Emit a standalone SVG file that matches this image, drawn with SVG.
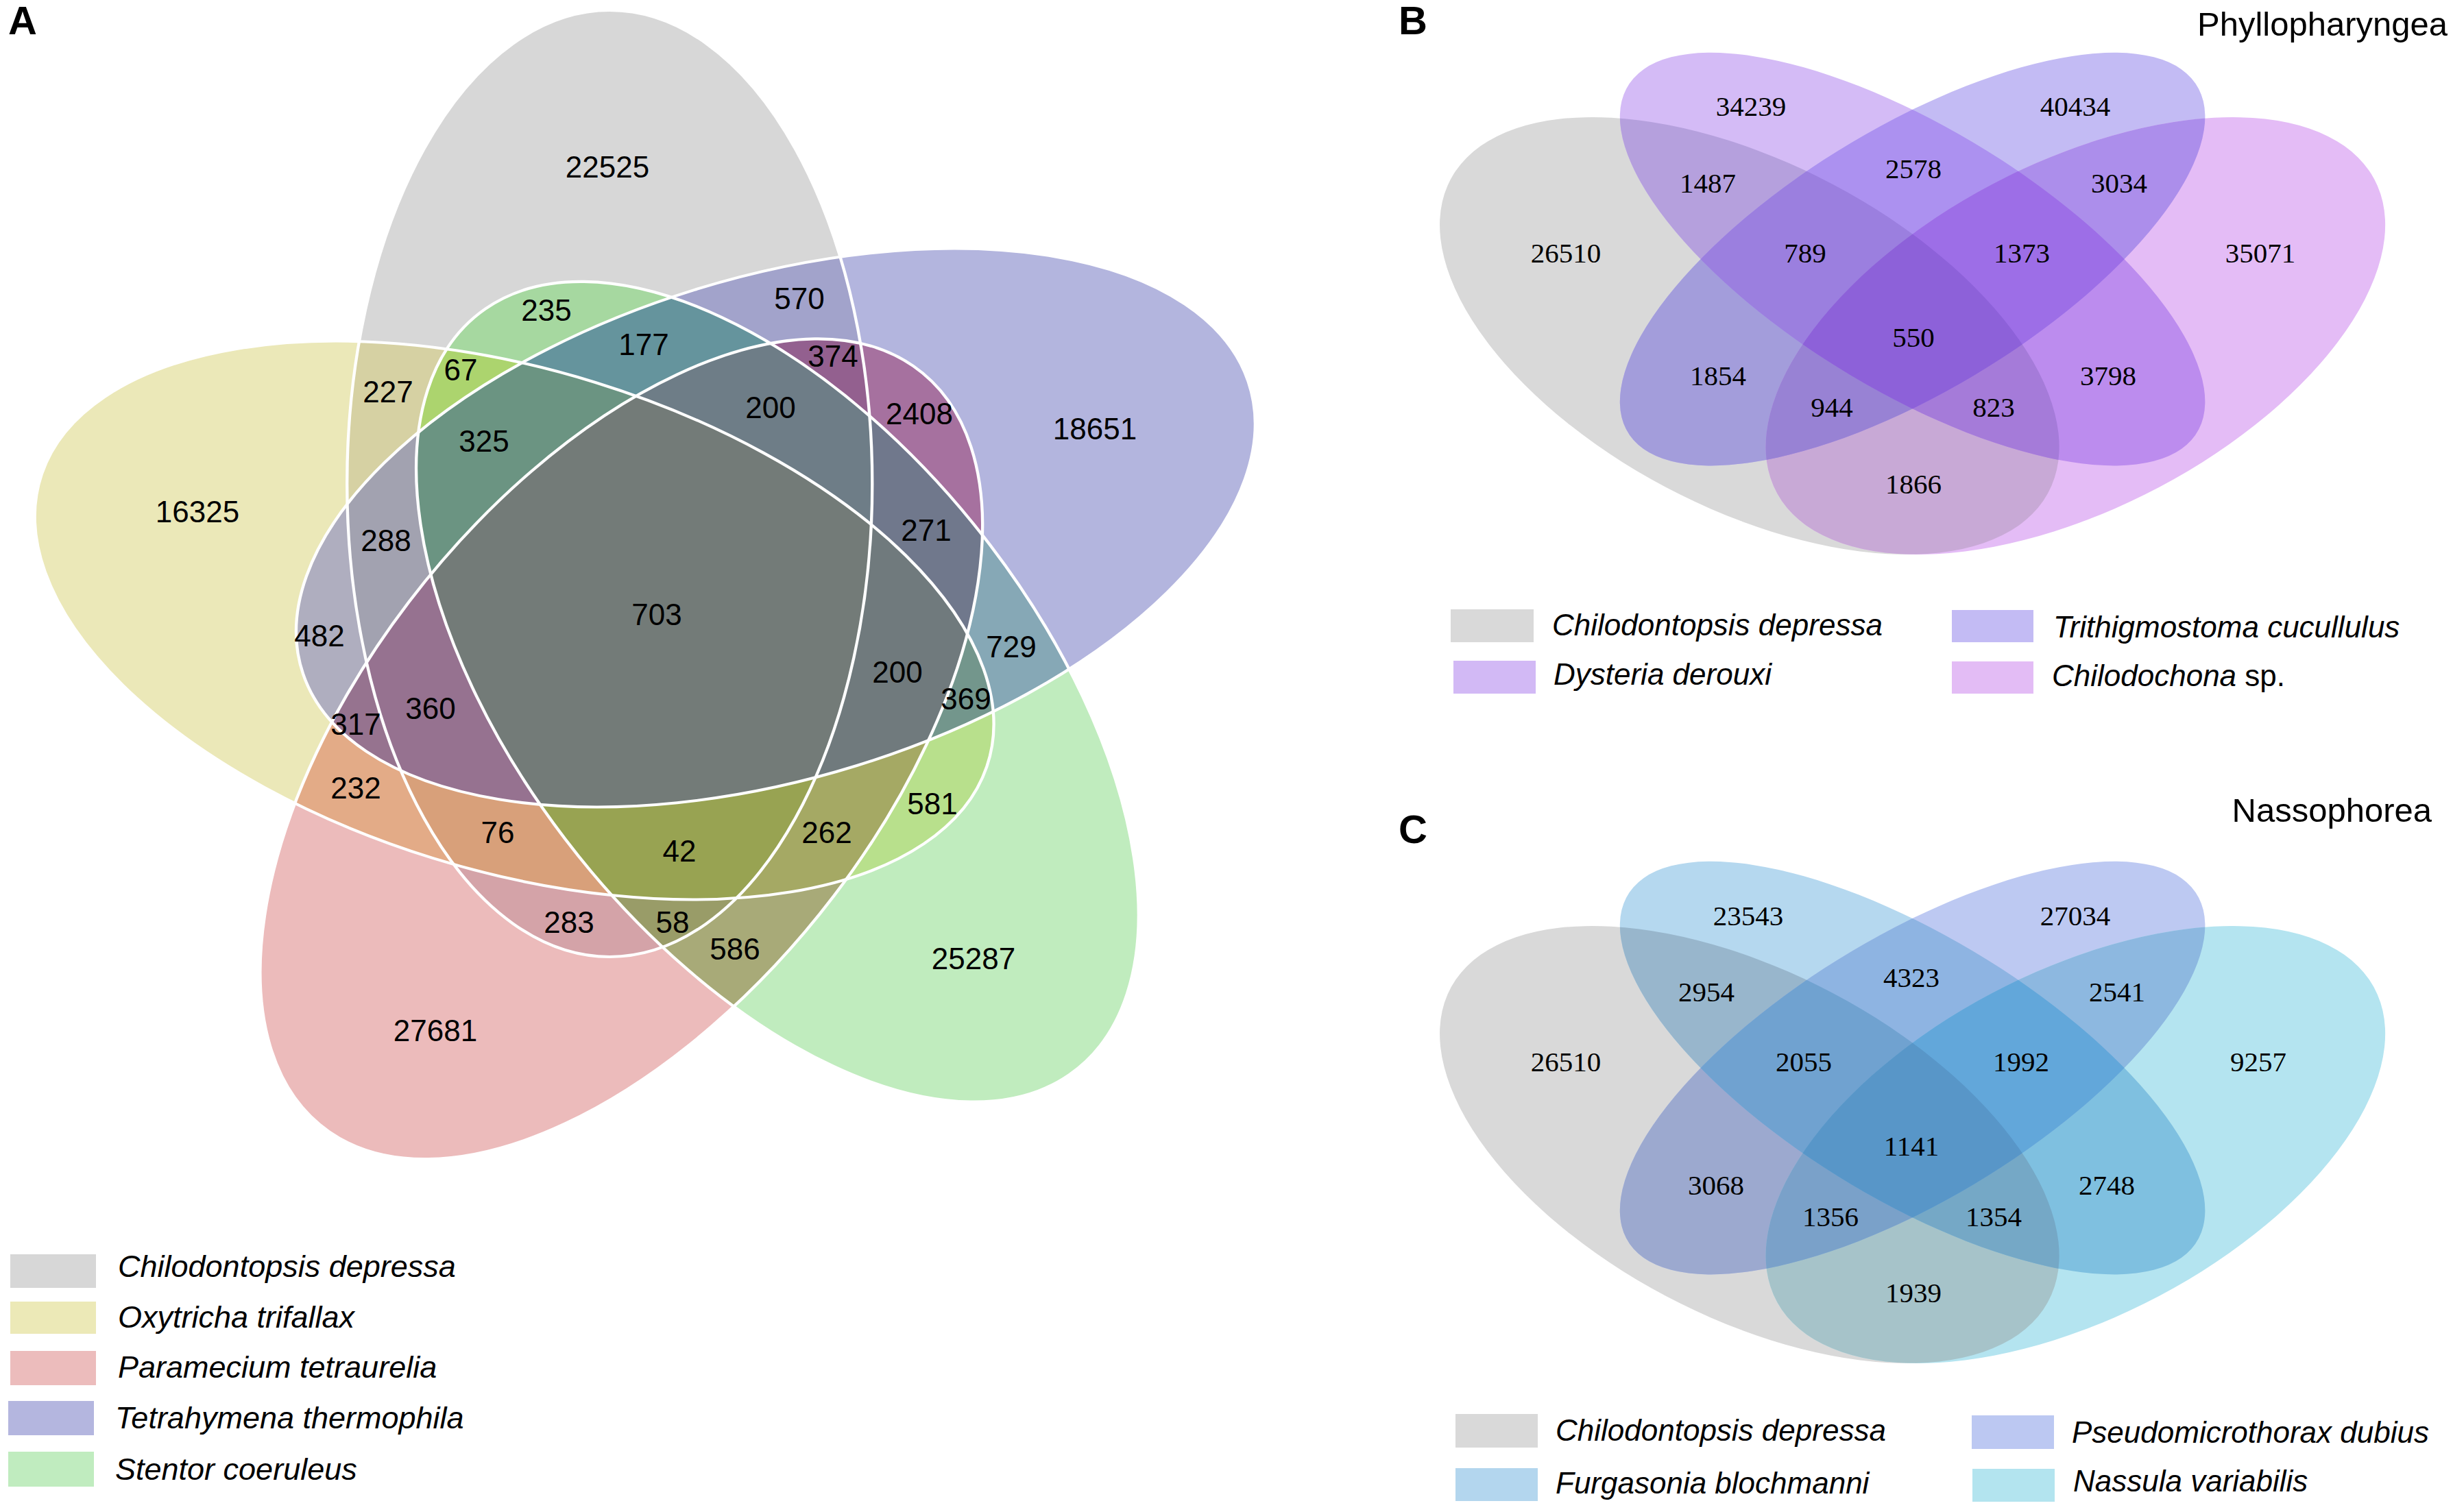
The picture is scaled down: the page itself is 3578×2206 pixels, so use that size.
<svg xmlns="http://www.w3.org/2000/svg" width="3578" height="2206" viewBox="0 0 3578 2206">
<style>
.numA{font-family:"Liberation Sans",Arial,sans-serif;font-size:44px;text-anchor:middle;fill:#000}
.numB{font-family:"Liberation Serif","Times New Roman",serif;font-size:41px;text-anchor:middle;fill:#000}
.legA{font-family:"Liberation Sans",Arial,sans-serif;font-size:45px;font-style:italic;fill:#000}
.legB{font-family:"Liberation Sans",Arial,sans-serif;font-size:44px;font-style:italic;fill:#000}
.plab{font-family:"Liberation Sans",Arial,sans-serif;font-size:58px;font-weight:bold;fill:#000}
.ttl{font-family:"Liberation Sans",Arial,sans-serif;font-size:49px;text-anchor:end;fill:#000}
</style>
<defs>
<ellipse id="eA0" cx="-0.04671" cy="-0.1256" rx="0.24" ry="0.4541"/>
<ellipse id="eA1" cx="0.10502" cy="-0.08323" rx="0.24" ry="0.4541" transform="rotate(72 0.10502 -0.08323)"/>
<ellipse id="eA2" cx="0.10661" cy="0.07416" rx="0.24" ry="0.4541" transform="rotate(144 0.10661 0.07416)"/>
<ellipse id="eA3" cx="-0.03603" cy="0.12907" rx="0.24" ry="0.4541" transform="rotate(216 -0.03603 0.12907)"/>
<ellipse id="eA4" cx="-0.13388" cy="0.00561" rx="0.24" ry="0.4541" transform="rotate(288 -0.13388 0.00561)"/>
<clipPath id="kA0"><use href="#eA0"/></clipPath>
<clipPath id="kA1"><use href="#eA1"/></clipPath>
<clipPath id="kA2"><use href="#eA2"/></clipPath>
<clipPath id="kA3"><use href="#eA3"/></clipPath>
<clipPath id="kA4"><use href="#eA4"/></clipPath>
<ellipse id="eB0" cx="-0.15" cy="0" rx="0.35" ry="0.2" transform="rotate(135 -0.15 0)"/>
<ellipse id="eB1" cx="0" cy="0.1" rx="0.35" ry="0.15" transform="rotate(135 0 0.1)"/>
<ellipse id="eB2" cx="0" cy="0.1" rx="0.35" ry="0.15" transform="rotate(45 0 0.1)"/>
<ellipse id="eB3" cx="0.15" cy="0" rx="0.35" ry="0.2" transform="rotate(45 0.15 0)"/>
<clipPath id="kB0"><use href="#eB0"/></clipPath>
<clipPath id="kB1"><use href="#eB1"/></clipPath>
<clipPath id="kB2"><use href="#eB2"/></clipPath>
<clipPath id="kB3"><use href="#eB3"/></clipPath>
</defs>
<rect x="0" y="0" width="3578" height="2206" fill="#fff"/>

<g id="panelA">
<text class="plab" x="12" y="50">A</text>
<g id="vennA" transform="translate(963.8 896.5) scale(1596 1520.6)">
<g id="setsA">
<use href="#eA0" fill="#d7d7d7"/>
<use href="#eA1" fill="#b3b5de"/>
<use href="#eA2" fill="#c0ecbe"/>
<use href="#eA3" fill="#ecbbbb"/>
<use href="#eA4" fill="#ebe8b8"/>
</g>
<g id="pairsA">
<g clip-path="url(#kA0)"><use href="#eA1" fill="#a2a3cb"/></g>
<g clip-path="url(#kA0)"><use href="#eA2" fill="#a6d8a0"/></g>
<g clip-path="url(#kA0)"><use href="#eA3" fill="#d4a3a8"/></g>
<g clip-path="url(#kA0)"><use href="#eA4" fill="#d6d1a3"/></g>
<g clip-path="url(#kA1)"><use href="#eA2" fill="#86a8b6"/></g>
<g clip-path="url(#kA1)"><use href="#eA3" fill="#a6719f"/></g>
<g clip-path="url(#kA1)"><use href="#eA4" fill="#afaebf"/></g>
<g clip-path="url(#kA2)"><use href="#eA3" fill="#a8aa78"/></g>
<g clip-path="url(#kA2)"><use href="#eA4" fill="#b8e08c"/></g>
<g clip-path="url(#kA3)"><use href="#eA4" fill="#e3ab87"/></g>
</g>
<g id="triplesA">
<g clip-path="url(#kA0)"><g clip-path="url(#kA1)"><use href="#eA2" fill="#65949d"/></g></g>
<g clip-path="url(#kA0)"><g clip-path="url(#kA1)"><use href="#eA3" fill="#93608f"/></g></g>
<g clip-path="url(#kA0)"><g clip-path="url(#kA1)"><use href="#eA4" fill="#a2a2b0"/></g></g>
<g clip-path="url(#kA0)"><g clip-path="url(#kA2)"><use href="#eA3" fill="#999c68"/></g></g>
<g clip-path="url(#kA0)"><g clip-path="url(#kA2)"><use href="#eA4" fill="#acd46e"/></g></g>
<g clip-path="url(#kA0)"><g clip-path="url(#kA3)"><use href="#eA4" fill="#d8a07a"/></g></g>
<g clip-path="url(#kA1)"><g clip-path="url(#kA2)"><use href="#eA3" fill="#70788c"/></g></g>
<g clip-path="url(#kA1)"><g clip-path="url(#kA2)"><use href="#eA4" fill="#73968c"/></g></g>
<g clip-path="url(#kA1)"><g clip-path="url(#kA3)"><use href="#eA4" fill="#96738f"/></g></g>
<g clip-path="url(#kA2)"><g clip-path="url(#kA3)"><use href="#eA4" fill="#a5a964"/></g></g>
</g>
<g id="quadsA">
<g clip-path="url(#kA0)"><g clip-path="url(#kA1)"><g clip-path="url(#kA2)"><use href="#eA3" fill="#6e7d87"/></g></g></g>
<g clip-path="url(#kA0)"><g clip-path="url(#kA1)"><g clip-path="url(#kA2)"><use href="#eA4" fill="#6b9482"/></g></g></g>
<g clip-path="url(#kA0)"><g clip-path="url(#kA1)"><g clip-path="url(#kA3)"><use href="#eA4" fill="#967290"/></g></g></g>
<g clip-path="url(#kA0)"><g clip-path="url(#kA2)"><g clip-path="url(#kA3)"><use href="#eA4" fill="#98a352"/></g></g></g>
<g clip-path="url(#kA1)"><g clip-path="url(#kA2)"><g clip-path="url(#kA3)"><use href="#eA4" fill="#707a7d"/></g></g></g>
</g>
<g id="allA">
<g clip-path="url(#kA0)"><g clip-path="url(#kA1)"><g clip-path="url(#kA2)"><g clip-path="url(#kA3)"><use href="#eA4" fill="#737b78"/></g></g></g></g>
</g>
<g id="outlinesA" fill="none" stroke="#ffffff" stroke-width="0.0027">
<use href="#eA0"/><use href="#eA1"/><use href="#eA2"/><use href="#eA3"/><use href="#eA4"/>
</g>
</g>
<g id="labelsA">
<text class="numA" x="886" y="259">22525</text>
<text class="numA" x="1166" y="451">570</text>
<text class="numA" x="797" y="468">235</text>
<text class="numA" x="939" y="518">177</text>
<text class="numA" x="1215" y="535">374</text>
<text class="numA" x="672" y="555">67</text>
<text class="numA" x="566" y="587">227</text>
<text class="numA" x="1124" y="610">200</text>
<text class="numA" x="1341" y="619">2408</text>
<text class="numA" x="1597" y="641">18651</text>
<text class="numA" x="706" y="659">325</text>
<text class="numA" x="288" y="762">16325</text>
<text class="numA" x="1351" y="789">271</text>
<text class="numA" x="563" y="804">288</text>
<text class="numA" x="958" y="912">703</text>
<text class="numA" x="466" y="943">482</text>
<text class="numA" x="1475" y="959">729</text>
<text class="numA" x="1309" y="996">200</text>
<text class="numA" x="1409" y="1035">369</text>
<text class="numA" x="628" y="1049">360</text>
<text class="numA" x="519" y="1072">317</text>
<text class="numA" x="519" y="1165">232</text>
<text class="numA" x="1360" y="1188">581</text>
<text class="numA" x="726" y="1230">76</text>
<text class="numA" x="1206" y="1230">262</text>
<text class="numA" x="991" y="1257">42</text>
<text class="numA" x="830" y="1361">283</text>
<text class="numA" x="981" y="1361">58</text>
<text class="numA" x="1072" y="1400">586</text>
<text class="numA" x="1420" y="1414">25287</text>
<text class="numA" x="635" y="1519">27681</text>
</g>
<g id="legendA">
<rect x="15" y="1830" width="125" height="49" fill="#d7d7d7"/>
<text class="legA" x="172" y="1863">Chilodontopsis depressa</text>
<rect x="15" y="1899" width="125" height="47" fill="#ece9b7"/>
<text class="legA" x="172" y="1937">Oxytricha trifallax</text>
<rect x="15" y="1971" width="125" height="50" fill="#ecbcbc"/>
<text class="legA" x="172" y="2010">Paramecium tetraurelia</text>
<rect x="12" y="2044" width="125" height="50" fill="#b4b6df"/>
<text class="legA" x="168" y="2084">Tetrahymena thermophila</text>
<rect x="12" y="2118" width="125" height="51" fill="#c0ecbf"/>
<text class="legA" x="168" y="2159">Stentor coeruleus</text>
</g>
</g>

<g id="panelB">
<text class="plab" x="2040" y="50">B</text>
<text class="ttl" x="3570" y="52">Phyllopharyngea</text>
<g id="vennB" transform="translate(2789.6 490) scale(1585 -1119)">
<use href="#eB0" fill="#d9d9d9"/>
<use href="#eB1" fill="#d4bbf6"/>
<use href="#eB2" fill="#c3bbf4"/>
<use href="#eB3" fill="#e4bcf6"/>
<g clip-path="url(#kB0)"><use href="#eB1" fill="#b5a0dd"/></g>
<g clip-path="url(#kB0)"><use href="#eB2" fill="#a39ddb"/></g>
<g clip-path="url(#kB0)"><use href="#eB3" fill="#c8a9d6"/></g>
<g clip-path="url(#kB1)"><use href="#eB2" fill="#ac91f0"/></g>
<g clip-path="url(#kB1)"><use href="#eB3" fill="#bc8cee"/></g>
<g clip-path="url(#kB2)"><use href="#eB3" fill="#ac8eeb"/></g>
<g clip-path="url(#kB0)"><g clip-path="url(#kB1)"><use href="#eB2" fill="#9b7fdf"/></g></g>
<g clip-path="url(#kB0)"><g clip-path="url(#kB1)"><use href="#eB3" fill="#a57bd9"/></g></g>
<g clip-path="url(#kB0)"><g clip-path="url(#kB2)"><use href="#eB3" fill="#9882d4"/></g></g>
<g clip-path="url(#kB1)"><g clip-path="url(#kB2)"><use href="#eB3" fill="#9d6ee7"/></g></g>
<g clip-path="url(#kB0)"><g clip-path="url(#kB1)"><g clip-path="url(#kB2)"><use href="#eB3" fill="#8d61d9"/></g></g></g>
</g>
<g id="labelsB">
<text class="numB" x="2554" y="169">34239</text>
<text class="numB" x="3027" y="169">40434</text>
<text class="numB" x="2791" y="260">2578</text>
<text class="numB" x="2491" y="281">1487</text>
<text class="numB" x="3091" y="281">3034</text>
<text class="numB" x="2284" y="383">26510</text>
<text class="numB" x="2633" y="383">789</text>
<text class="numB" x="2949" y="383">1373</text>
<text class="numB" x="3297" y="383">35071</text>
<text class="numB" x="2791" y="506">550</text>
<text class="numB" x="2506" y="562">1854</text>
<text class="numB" x="3075" y="562">3798</text>
<text class="numB" x="2672" y="608">944</text>
<text class="numB" x="2908" y="608">823</text>
<text class="numB" x="2791" y="720">1866</text>
</g>
<g id="legendB">
<rect x="2116" y="889" width="121" height="48" fill="#d9d9d9"/>
<text class="legB" x="2264" y="927">Chilodontopsis depressa</text>
<rect x="2120" y="964" width="120" height="48" fill="#d2b9f5"/>
<text class="legB" x="2266" y="999">Dysteria derouxi</text>
<rect x="2847" y="890" width="119" height="47" fill="#c3bbf4"/>
<text class="legB" x="2995" y="930">Trithigmostoma cucullulus</text>
<rect x="2847" y="965" width="119" height="47" fill="#e3bcf5"/>
<text class="legB" x="2993" y="1001">Chilodochona<tspan font-style="normal"> sp.</tspan></text>
</g>
</g>

<g id="panelC">
<text class="plab" x="2040" y="1230">C</text>
<text class="ttl" x="3547" y="1199">Nassophorea</text>
<g id="vennC" transform="translate(2789.6 1670) scale(1585 -1119)">
<use href="#eB0" fill="#d9d9d9"/>
<use href="#eB1" fill="#b5d8ef"/>
<use href="#eB2" fill="#bdc9f2"/>
<use href="#eB3" fill="#b4e4f0"/>
<g clip-path="url(#kB0)"><use href="#eB1" fill="#98b6cc"/></g>
<g clip-path="url(#kB0)"><use href="#eB2" fill="#9ca9cf"/></g>
<g clip-path="url(#kB0)"><use href="#eB3" fill="#a6c3c9"/></g>
<g clip-path="url(#kB1)"><use href="#eB2" fill="#8eb4e2"/></g>
<g clip-path="url(#kB1)"><use href="#eB3" fill="#7fc0e0"/></g>
<g clip-path="url(#kB2)"><use href="#eB3" fill="#8db8e0"/></g>
<g clip-path="url(#kB0)"><g clip-path="url(#kB1)"><use href="#eB2" fill="#70a2d0"/></g></g>
<g clip-path="url(#kB0)"><g clip-path="url(#kB1)"><use href="#eB3" fill="#75a8c6"/></g></g>
<g clip-path="url(#kB0)"><g clip-path="url(#kB2)"><use href="#eB3" fill="#7aa1c9"/></g></g>
<g clip-path="url(#kB1)"><g clip-path="url(#kB2)"><use href="#eB3" fill="#62a7da"/></g></g>
<g clip-path="url(#kB0)"><g clip-path="url(#kB1)"><g clip-path="url(#kB2)"><use href="#eB3" fill="#5896c8"/></g></g></g>
</g>
<g id="labelsC">
<text class="numB" x="2550" y="1350">23543</text>
<text class="numB" x="3027" y="1350">27034</text>
<text class="numB" x="2788" y="1440">4323</text>
<text class="numB" x="2489" y="1461">2954</text>
<text class="numB" x="3088" y="1461">2541</text>
<text class="numB" x="2284" y="1563">26510</text>
<text class="numB" x="2631" y="1563">2055</text>
<text class="numB" x="2948" y="1563">1992</text>
<text class="numB" x="3294" y="1563">9257</text>
<text class="numB" x="2788" y="1686">1141</text>
<text class="numB" x="2503" y="1743">3068</text>
<text class="numB" x="3073" y="1743">2748</text>
<text class="numB" x="2670" y="1789">1356</text>
<text class="numB" x="2908" y="1789">1354</text>
<text class="numB" x="2791" y="1900">1939</text>
</g>
<g id="legendC">
<rect x="2123" y="2063" width="120" height="49" fill="#d9d9d9"/>
<text class="legB" x="2269" y="2102">Chilodontopsis depressa</text>
<rect x="2123" y="2142" width="120" height="48" fill="#b3d6ee"/>
<text class="legB" x="2269" y="2179">Furgasonia blochmanni</text>
<rect x="2876" y="2065" width="120" height="49" fill="#bcc8f2"/>
<text class="legB" x="3022" y="2105">Pseudomicrothorax dubius</text>
<rect x="2877" y="2143" width="120" height="48" fill="#b3e4ef"/>
<text class="legB" x="3024" y="2176">Nassula variabilis</text>
</g>
</g>
</svg>
